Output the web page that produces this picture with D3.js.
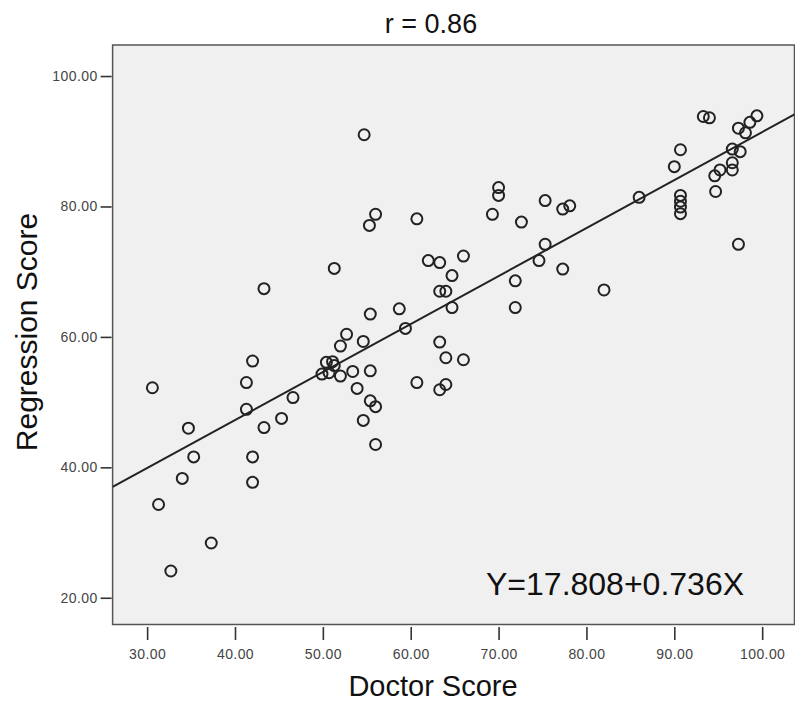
<!DOCTYPE html>
<html>
<head>
<meta charset="utf-8">
<script src="https://cdn.jsdelivr.net/npm/d3@7"></script>
<style>
  body { margin: 0; background: #fff; }
  svg { display: block; font-family: "Liberation Sans", Arial, sans-serif; }
  .tick text { fill: #444; font-size: 14px; letter-spacing: 0.4px; }
  .tick line { stroke: #333; stroke-width: 1.6; }
</style>
</head>
<body>
<svg width="795" height="701"></svg>
<script>
// data
const doctorScore = [
  30.6, 31.3, 32.7, 34.0, 34.7, 35.3, 37.3, 41.3, 41.3, 42.0, 42.0, 42.0, 43.3, 43.3, 45.3, 46.6,
  49.9, 50.7, 50.4, 51.1, 52.0, 51.3, 52.0, 52.7, 53.4, 53.9, 54.6, 54.6, 55.4, 55.4, 56.0, 56.0,
  54.7, 70.0, 70.0, 69.3, 56.0, 55.3, 60.7, 62.0, 63.3, 66.0, 64.7, 63.3, 64.0, 64.7, 71.9, 71.9,
  51.3, 55.4, 58.7, 59.4, 63.3, 64.0, 66.0, 82.0, 60.7, 64.0, 63.3,
  93.3, 94.0, 99.4, 98.6, 97.3, 98.1, 96.6, 97.5, 96.6, 96.6, 95.2, 94.6, 94.7,
  90.7, 90.0, 90.7, 90.7, 90.7, 90.7, 97.3, 86.0, 75.3, 77.3, 78.1, 72.6, 75.3, 74.6, 77.3
];
const regressionScore = [
  52.2, 34.3, 24.1, 38.3, 46.0, 41.6, 28.4, 53.0, 48.9, 56.3, 41.6, 37.7, 67.4, 46.1, 47.5, 50.7,
  54.3, 54.5, 56.1, 56.2, 54.0, 55.6, 58.6, 60.4, 54.7, 52.1, 59.3, 47.2, 54.8, 50.2, 49.3, 43.5,
  91.0, 82.9, 81.7, 78.8, 78.8, 77.1, 78.1, 71.7, 71.4, 72.4, 69.4, 67.0, 67.0, 64.5, 68.6, 64.5,
  70.5, 63.5, 64.3, 61.3, 59.2, 56.8, 56.5, 67.2, 53.0, 52.7, 51.9,
  93.8, 93.6, 93.9, 92.9, 92.0, 91.3, 88.8, 88.4, 86.7, 85.6, 85.6, 84.7, 82.3,
  88.7, 86.1, 81.7, 80.8, 79.9, 78.9, 74.2, 81.4, 80.9, 79.6, 80.1, 77.6, 74.2, 71.7, 70.4
];
const xTicks = [30, 40, 50, 60, 70, 80, 90, 100];
const yTicks = [20, 40, 60, 80, 100];
const fitIntercept = 17.808;
const fitSlope = 0.736;
const titleText = "r = 0.86";
const equationText = "Y=17.808+0.736X";

const points = doctorScore.map((d, i) => ({ x: d, y: regressionScore[i] }));

const margin = { top: 45, right: 0.5, bottom: 76.5, left: 112.6 };
const width = 795 - margin.left - margin.right;
const height = 701 - margin.top - margin.bottom;

const svg = d3.select("svg");
const chart = svg
  .append("g")
  .attr("transform", `translate(${margin.left}, ${margin.top})`);

const xScale = d3.scaleLinear().domain([26.07, 103.68]).range([0, width]);
const yScale = d3.scaleLinear().domain([15.9, 104.76]).range([height, 0]);

// plot background + frame
chart
  .append("rect")
  .attr("width", width)
  .attr("height", height)
  .attr("fill", "#f0f0f0")
  .attr("stroke", "#555")
  .attr("stroke-width", 1.5);

// axes
const fmt = d3.format(".2f");
chart
  .append("g")
  .attr("transform", "translate(-1, 0)")
  .call(d3.axisLeft(yScale).tickValues(yTicks).tickFormat(fmt).tickSize(11).tickPadding(3))
  .call(g => g.select(".domain").remove());

chart
  .append("g")
  .attr("transform", `translate(0, ${height + 2.5})`)
  .call(d3.axisBottom(xScale).tickValues(xTicks).tickFormat(fmt).tickSize(13).tickPadding(9))
  .call(g => g.select(".domain").remove());

// fit line
chart
  .append("defs")
  .append("clipPath")
  .attr("id", "plot-clip")
  .append("rect")
  .attr("width", width)
  .attr("height", height);

const [x0, x1] = xScale.domain();
chart
  .append("line")
  .attr("clip-path", "url(#plot-clip)")
  .attr("x1", xScale(x0))
  .attr("y1", yScale(fitIntercept + fitSlope * x0))
  .attr("x2", xScale(x1))
  .attr("y2", yScale(fitIntercept + fitSlope * x1))
  .attr("stroke", "#222")
  .attr("stroke-width", 2);

// points
chart
  .selectAll()
  .data(points)
  .enter()
  .append("circle")
  .attr("cx", d => xScale(d.x))
  .attr("cy", d => yScale(d.y))
  .attr("r", 5.5)
  .attr("fill", "none")
  .attr("stroke", "#222")
  .attr("stroke-width", 2);

// texts
svg
  .append("text")
  .attr("x", 431)
  .attr("y", 33)
  .attr("text-anchor", "middle")
  .attr("font-size", 27)
  .attr("fill", "#111")
  .text(titleText);

svg
  .append("text")
  .attr("x", 433)
  .attr("y", 696)
  .attr("text-anchor", "middle")
  .attr("font-size", 29)
  .attr("fill", "#111")
  .text("Doctor Score");

svg
  .append("text")
  .attr("transform", "translate(37, 332) rotate(-90)")
  .attr("text-anchor", "middle")
  .attr("font-size", 30)
  .attr("fill", "#111")
  .text("Regression Score");

svg
  .append("text")
  .attr("x", 486)
  .attr("y", 595)
  .attr("font-size", 32)
  .attr("fill", "#111")
  .text(equationText);
</script>
</body>
</html>
